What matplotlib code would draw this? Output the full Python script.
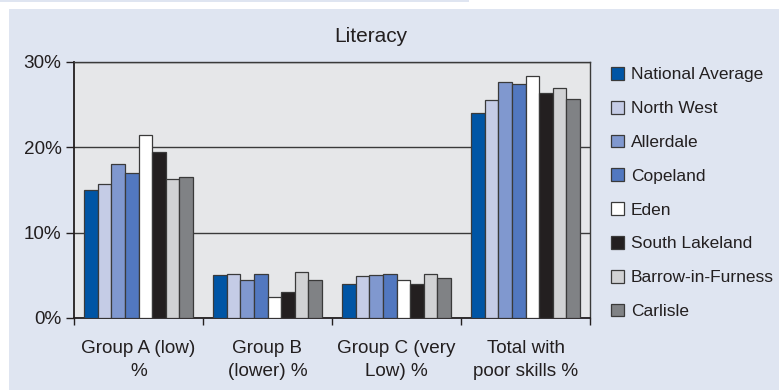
import matplotlib
matplotlib.use("Agg")
import matplotlib.pyplot as plt
import numpy as np
from matplotlib.patches import Rectangle
from matplotlib.ticker import FixedLocator

plt.rcParams['font.family'] = ['Liberation Sans', 'DejaVu Sans']

categories = ["Group A (low)\n%", "Group B\n(lower) %", "Group C (very\nLow) %", "Total with\npoor skills %"]
series_names = ["National Average", "North West", "Allerdale", "Copeland", "Eden",
                "South Lakeland", "Barrow-in-Furness", "Carlisle"]
national_average = [15.0, 5.0, 4.0, 24.0]
north_west = [15.7, 5.1, 4.9, 25.6]
allerdale = [18.1, 4.4, 5.0, 27.6]
copeland = [17.0, 5.2, 5.2, 27.4]
eden = [21.5, 2.5, 4.4, 28.4]
south_lakeland = [19.5, 3.0, 4.0, 26.4]
barrow = [16.3, 5.4, 5.2, 26.9]
carlisle = [16.5, 4.5, 4.7, 25.7]
series_values = [national_average, north_west, allerdale, copeland, eden,
                 south_lakeland, barrow, carlisle]
colors = ["#0055a5", "#c5cce6", "#8098cf", "#5278c0", "#ffffff",
          "#231f20", "#d1d2d4", "#808285"]
yticks = [0, 10, 20, 30]
ytick_labels = ["0%", "10%", "20%", "30%"]

W, H = 779, 390
fig = plt.figure(figsize=(W / 100, H / 100), dpi=100)
fig.patch.set_facecolor("white")
# background panel
fig.patches.append(Rectangle((9 / W, 0), 1 - 9 / W, (H - 9) / H, transform=fig.transFigure,
                             facecolor="#dfe5f1", edgecolor="none", zorder=-10))
fig.patches.append(Rectangle((0, 1 - 1.5 / H), 469 / W, 1.5 / H, transform=fig.transFigure,
                             facecolor="#dfe5f1", edgecolor="none", zorder=-10))

left, right, top, bottom = 74, 590, 62, 318
ax = fig.add_axes([left / W, 1 - bottom / H, (right - left) / W, (bottom - top) / H])
ax.set_facecolor("#e6e7e9")

n = len(series_names)
bw = 0.105
x = np.arange(len(categories))
for i, (name, vals, c) in enumerate(zip(series_names, series_values, colors)):
    offs = (i - (n - 1) / 2) * bw
    ax.bar(x + offs, vals, width=bw, color=c, edgecolor="#3a3a3a", linewidth=0.9,
           label=name, zorder=3)

ax.set_xlim(-0.5, len(categories) - 0.5)
ax.set_ylim(0, 30)
ax.yaxis.set_major_locator(FixedLocator(yticks))
ax.set_yticklabels(ytick_labels, fontsize=13.6, color="#231f20")
ax.set_xticks(x)
ax.set_xticklabels(categories, fontsize=13.6, color="#231f20", linespacing=1.45)
ax.xaxis.set_minor_locator(FixedLocator(np.arange(-0.5, len(categories), 1.0)))
ax.tick_params(axis="x", which="major", length=0, pad=16)
ax.tick_params(axis="x", which="minor", length=5, width=1, color="#231f20", direction="out")
ax.tick_params(axis="y", length=6, width=1, color="#231f20", direction="out", pad=3)
ax.grid(axis="y", color="#3a3a3a", linewidth=1.0, zorder=1)
for s in ax.spines.values():
    s.set_color("#3a3a3a")
    s.set_linewidth(1.0)
ax.spines["left"].set_color("#231f20")
ax.spines["bottom"].set_color("#231f20")
ax.spines["left"].set_linewidth(1.3)
ax.spines["bottom"].set_linewidth(1.3)

fig.text(371 / W, 1 - 36 / H, "Literacy", ha="center", va="center", fontsize=15, color="#231f20")

handles, labels = ax.get_legend_handles_labels()
leg = fig.legend(handles, labels, loc="upper left", bbox_to_anchor=(611 / W, 1 - 67 / H),
                 frameon=False, fontsize=12.5, handlelength=0.75, handleheight=0.75,
                 handletextpad=0.4, labelspacing=1.06, borderaxespad=0, borderpad=0)
for t in leg.get_texts():
    t.set_color("#231f20")

fig.savefig("out.png", dpi=100, facecolor=fig.get_facecolor())
